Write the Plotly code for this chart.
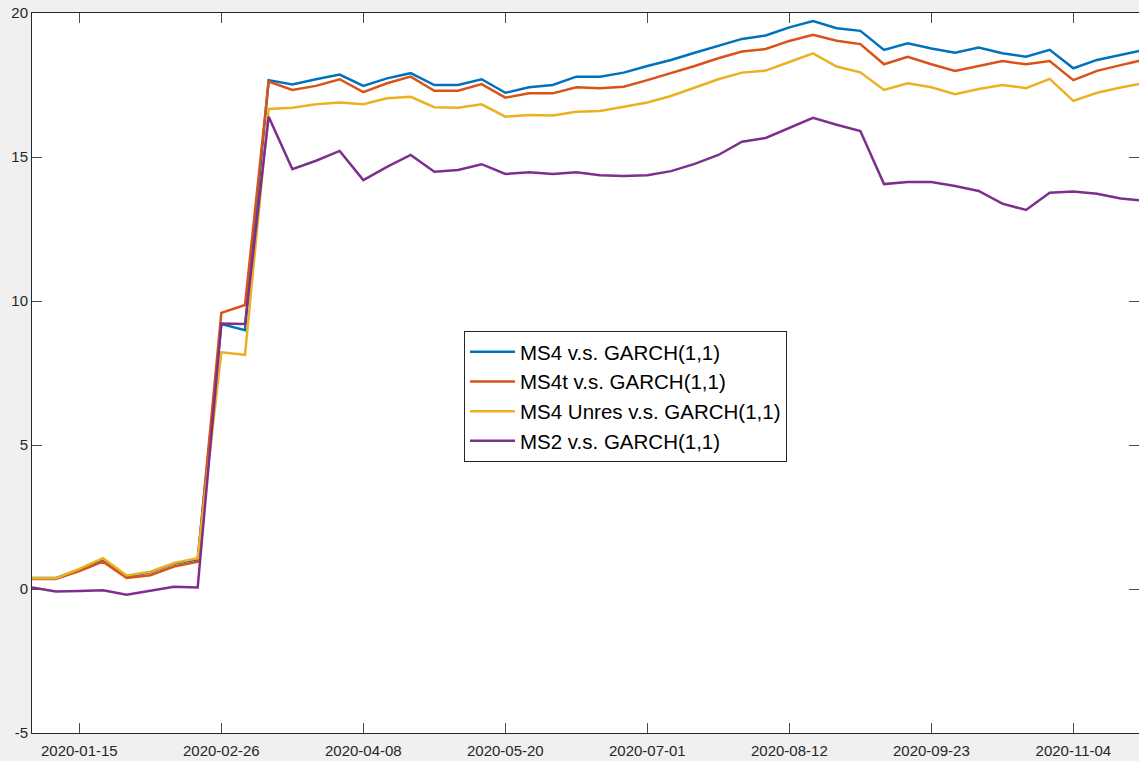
import plotly.graph_objects as go

dates = [
    "2020-01-01", "2020-01-08", "2020-01-15", "2020-01-22", "2020-01-29",
    "2020-02-05", "2020-02-12", "2020-02-19", "2020-02-26",
    "2020-03-04", "2020-03-11", "2020-03-18", "2020-03-25",
    "2020-04-01", "2020-04-08", "2020-04-15", "2020-04-22", "2020-04-29",
    "2020-05-06", "2020-05-13", "2020-05-20", "2020-05-27",
    "2020-06-03", "2020-06-10", "2020-06-17", "2020-06-24",
    "2020-07-01", "2020-07-08", "2020-07-15", "2020-07-22", "2020-07-29",
    "2020-08-05", "2020-08-12", "2020-08-19", "2020-08-26",
    "2020-09-02", "2020-09-09", "2020-09-16", "2020-09-23", "2020-09-30",
    "2020-10-07", "2020-10-14", "2020-10-21", "2020-10-28",
    "2020-11-04", "2020-11-11", "2020-11-18", "2020-11-25",
]

ms4 = [0.38, 0.38, 0.68, 1.03, 0.44, 0.58, 0.88, 1.03, 9.20, 8.99,
       17.67, 17.52, 17.70, 17.86, 17.47, 17.73, 17.91, 17.50, 17.50, 17.70,
       17.23, 17.42, 17.50, 17.79, 17.79, 17.93, 18.16, 18.37, 18.62, 18.86,
       19.10, 19.22, 19.50, 19.72, 19.47, 19.38, 18.72, 18.95, 18.77, 18.62,
       18.80, 18.60, 18.48, 18.72, 18.08, 18.37, 18.54, 18.72]

ms4t = [0.35, 0.35, 0.62, 0.95, 0.38, 0.48, 0.78, 0.95, 9.59, 9.86,
        17.62, 17.33, 17.47, 17.70, 17.25, 17.56, 17.79, 17.30, 17.30, 17.53,
        17.06, 17.21, 17.21, 17.42, 17.39, 17.44, 17.67, 17.91, 18.16, 18.43,
        18.66, 18.75, 19.03, 19.24, 19.04, 18.92, 18.22, 18.48, 18.22, 17.99,
        18.17, 18.33, 18.22, 18.33, 17.67, 17.99, 18.19, 18.38]

ms4_unres = [0.37, 0.37, 0.70, 1.07, 0.47, 0.60, 0.90, 1.07, 8.22, 8.13,
             16.67, 16.71, 16.83, 16.89, 16.83, 17.04, 17.09, 16.73, 16.71, 16.83,
             16.40, 16.46, 16.44, 16.57, 16.60, 16.75, 16.89, 17.12, 17.42, 17.70,
             17.93, 18.00, 18.30, 18.60, 18.14, 17.94, 17.33, 17.56, 17.42, 17.18,
             17.36, 17.50, 17.39, 17.71, 16.95, 17.23, 17.41, 17.57]

ms2 = [0.05, -0.09, -0.07, -0.04, -0.20, -0.05, 0.08, 0.05, 9.22, 9.20,
       16.40, 14.58, 14.87, 15.21, 14.20, 14.66, 15.07, 14.49, 14.55, 14.75,
       14.41, 14.47, 14.41, 14.47, 14.37, 14.34, 14.37, 14.51, 14.76, 15.07,
       15.53, 15.66, 16.00, 16.36, 16.12, 15.90, 14.06, 14.13, 14.13, 13.99,
       13.82, 13.38, 13.16, 13.76, 13.80, 13.72, 13.56, 13.48]

series_names = ["MS4 v.s. GARCH(1,1)", "MS4t v.s. GARCH(1,1)",
                "MS4 Unres v.s. GARCH(1,1)", "MS2 v.s. GARCH(1,1)"]
series_values = [ms4, ms4t, ms4_unres, ms2]
colors = ["#0072BD", "#D95319", "#EDB120", "#7E2F8E"]

x_tick_dates = ["2020-01-15", "2020-02-26", "2020-04-08", "2020-05-20",
                "2020-07-01", "2020-08-12", "2020-09-23", "2020-11-04"]
y_tick_vals = [-5, 0, 5, 10, 15, 20]
y_tick_text = ["-5", "0", "5", "10", "15", "20"]

fig = go.Figure()
for name, vals, col in zip(series_names, series_values, colors):
    fig.add_trace(go.Scatter(x=dates, y=vals, mode="lines", name=name,
                             line=dict(color=col, width=2.5)))

axis_common = dict(
    showgrid=False, zeroline=False, showline=True, linecolor="#262626",
    linewidth=1, mirror="ticks", ticks="inside", ticklen=10, tickwidth=1,
    tickcolor="#4d4d4d", automargin=False,
    tickfont=dict(family="Liberation Sans, Arial, sans-serif", size=15, color="#262626"),
)

fig.update_layout(
    width=1139, height=761,
    margin=dict(l=32, r=0, t=13, b=28, autoexpand=False),
    paper_bgcolor="#f0f0f0", plot_bgcolor="#ffffff",
    showlegend=True,
    legend=dict(
        x=(464 - 32) / 1107, y=(733 - 331) / 720, xanchor="left", yanchor="top",
        bgcolor="#ffffff", bordercolor="#262626", borderwidth=1,
        font=dict(family="Liberation Sans, Arial, sans-serif", size=20.5, color="#000000"),
        itemwidth=45,
    ),
    xaxis=dict(range=["2020-01-01", "2020-11-23 10:00"], tickvals=x_tick_dates,
               tickformat="%Y-%m-%d", ticklabelstandoff=4, **axis_common),
    yaxis=dict(range=[-5, 20], tickvals=y_tick_vals, ticktext=y_tick_text, **axis_common),
)

fig.write_html(
    "out.html",
    config={"displayModeBar": False},
    post_script="document.body.style.margin='0';document.body.style.background='#f0f0f0';document.body.style.overflow='hidden';",
)
